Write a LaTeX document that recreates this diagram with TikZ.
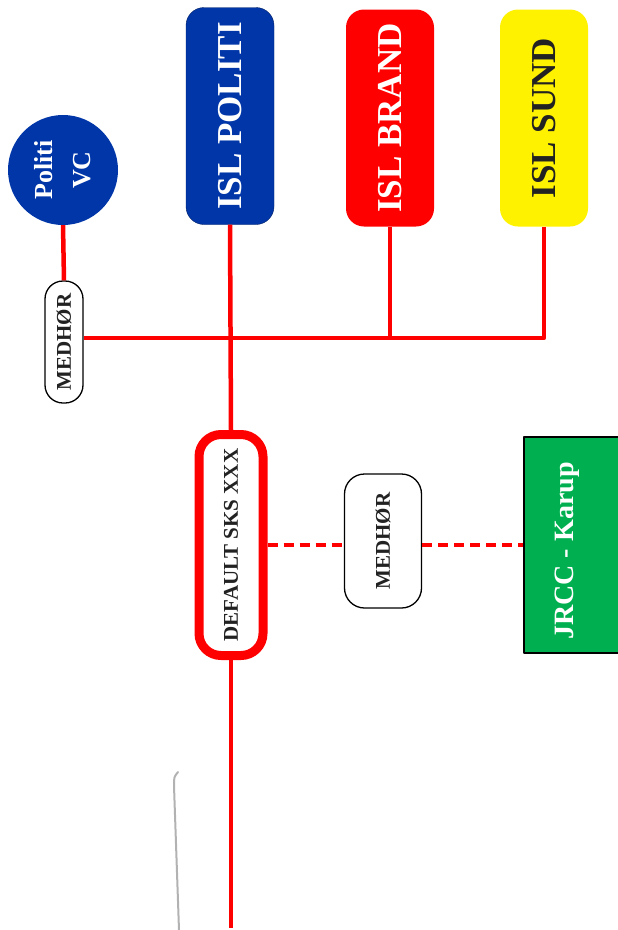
\documentclass[tikz,border=0pt]{standalone}
\usepackage{fontspec}
\setmainfont{Liberation Serif}
\usepackage{tikz}
\usetikzlibrary{calc}
\definecolor{polblue}{HTML}{0036A8}
\definecolor{jrccgreen}{HTML}{00B050}
\definecolor{txtdark}{HTML}{222222}
\tikzset{isl/.style={rotate=90,rounded corners=18pt,minimum width=217pt,minimum height=88pt,inner sep=0pt,font=\fontsize{35}{35}\selectfont\bfseries}}
\tikzset{med/.style={rotate=90,draw=black,line width=1.3pt,fill=white,inner sep=0pt,text=txtdark,font=\fontsize{21}{21}\selectfont\bfseries}}
\tikzset{rl/.style={draw=red,line width=4.5pt}}
\tikzset{dl/.style={draw=red,line width=4.5pt,dash pattern=on 10pt off 6pt}}

\begin{document}
\begin{tikzpicture}[x=1pt,y=-1pt,line join=round]
            \useasboundingbox (0,0) rectangle (618,930);
            % top row
            \node[isl,fill=polblue,draw=polblue!60!black,text=white] (ipol) at (230,116) {ISL POLITI};
            \node[isl,fill=red,text=white] (ibrand) at (390,118) {ISL BRAND};
            \node[isl,fill=yellow,text=txtdark] (isund) at (544,118) {ISL SUND};
            \node[circle,rotate=90,fill=polblue,minimum size=110pt,inner sep=0pt,text=white,align=center,
                  font=\fontsize{26}{38}\selectfont\bfseries] (pvc) at (63,170) {Politi\\VC};
            \node[med,rounded corners=18pt,minimum width=122pt,minimum height=38pt] (med1) at (64,342) {MEDHØR};
            % middle row
            \node[rotate=90,draw=red,line width=9pt,fill=white,rounded corners=22pt,minimum width=221pt,minimum height=64pt,
                  inner sep=0pt,text=txtdark,font=\fontsize{21}{21}\selectfont\bfseries] (dflt) at (231,545) {DEFAULT SKS XXX};
            \node[med,rounded corners=20pt,minimum width=134pt,minimum height=77pt] (med2) at (383,541) {MEDHØR};
            \node[rotate=90,draw=black,line width=1.5pt,fill=jrccgreen,minimum width=216pt,minimum height=130pt,inner sep=0pt] (jrcc) at (589,545) {};
            \node[rotate=90,text=white,font=\fontsize{28}{28}\selectfont\bfseries] (jrcct) at (567,551) {JRCC - Karup};
            % connections
            \coordinate (bot) at (231,928);
            \draw[rl] (pvc.west) -- (med1.east);
            \draw[rl] (med1.south |- 0,338) -- (isund.west |- 0,338) -- (isund.west);
            \draw[rl] (ibrand.west) -- (ibrand.west |- 0,338);
            \draw[rl] (ipol.west) -- (dflt.east);
            \draw[rl] (dflt.west) -- (bot);
            \draw[dl] (dflt.south) -- (dflt.south -| med2.north);
            \draw[dl] (dflt.south -| med2.south) -- (jrcc.north);
            % stray pen stroke
            \draw[gray!60,line width=2pt,line cap=round] (178,772) .. controls (174,777) .. (174,786) -- (179,930);
          \end{tikzpicture}
\end{document}
